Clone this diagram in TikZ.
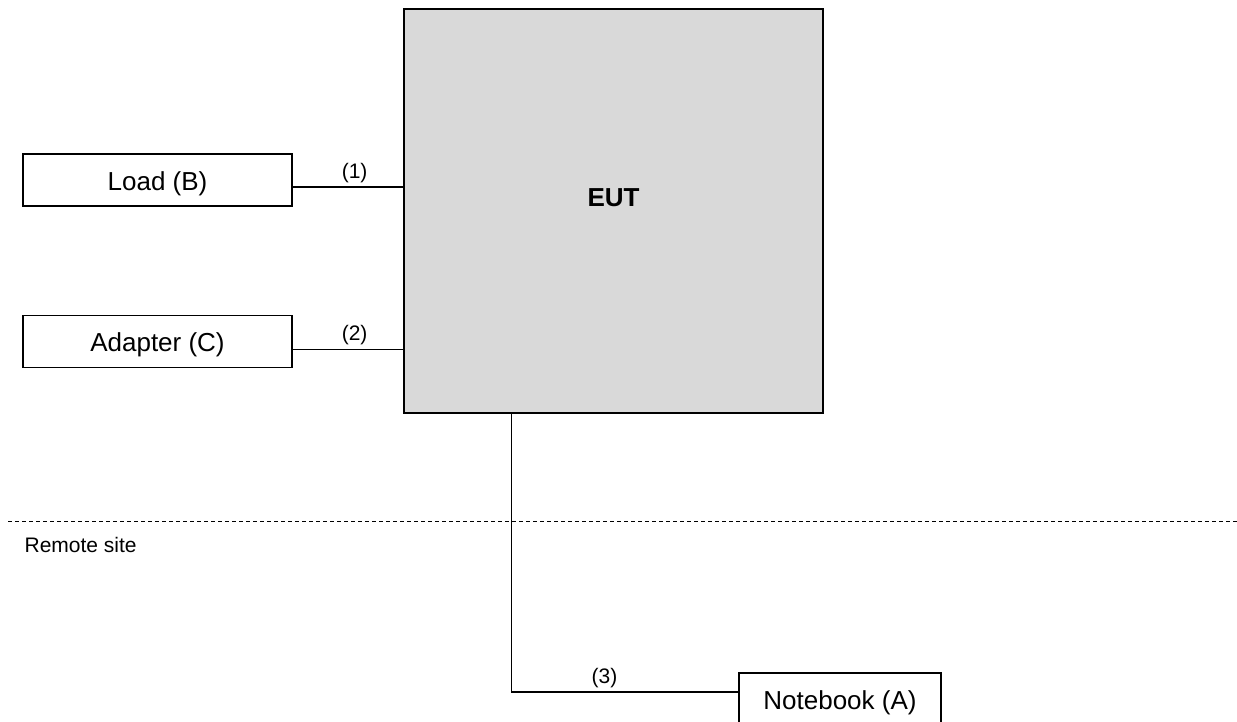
\documentclass[tikz,border=0pt]{standalone}
\usepackage{fontspec}
\setmainfont{Liberation Sans}
\usetikzlibrary{calc,positioning}
\definecolor{eutgray}{HTML}{D9D9D9}

\begin{document}
\begin{tikzpicture}[x=0.5pt,y=-0.5pt,line width=0.65pt,
    unitbox/.style={draw,minimum width=134.5pt,minimum height=26pt,inner sep=0pt,
      text height=13pt,text depth=2.7pt,font=\fontsize{13}{15}\selectfont},
    portlbl/.style={above,inner sep=2pt,font=\fontsize{10.5}{12}\selectfont}]
  \useasboundingbox (0,0) rectangle (1237,722);
  % equipment under test
  \node[draw,fill=eutgray,minimum width=209.5pt,minimum height=202pt,inner sep=0pt] (eut) at (613.5,211) {};
  \node[font=\fontsize{13}{15}\selectfont\bfseries] (euttxt) at ([yshift=6.75pt]eut.center) {EUT};
  % local units
  \node[unitbox] (load) at (157.5,180) {Load (B)};
  \node[unitbox,below=54pt of load] (adapter) {Adapter (C)};
  % cables
  \draw ([yshift=-3.5pt]load.east) -- ([yshift=-3.5pt]load.east -| eut.west)
      node[portlbl,pos=0.56]{(1)};
  \draw ([yshift=-4pt]adapter.east) -- ([yshift=-4pt]adapter.east -| eut.west)
      node[portlbl,pos=0.56]{(2)};
  % site boundary
  \coordinate (sepL) at (8,521);
  \coordinate (sepR) at (1237,521);
  \draw[line width=0.5pt,dash pattern=on 2pt off 1.5pt] (sepL) -- (sepR);
  \node[anchor=west,inner sep=0pt,font=\fontsize{10.5}{12}\selectfont] (remote) at (24,545) {Remote site};
  % remote unit
  \node[unitbox,minimum width=101pt] (nb) at (840,699) {Notebook (A)};
  \coordinate (tap) at ([xshift=54pt]eut.south west);
  \draw (tap) |- ([yshift=3.5pt]nb.west) node[portlbl,pos=0.705]{(3)};
\end{tikzpicture}
\end{document}
